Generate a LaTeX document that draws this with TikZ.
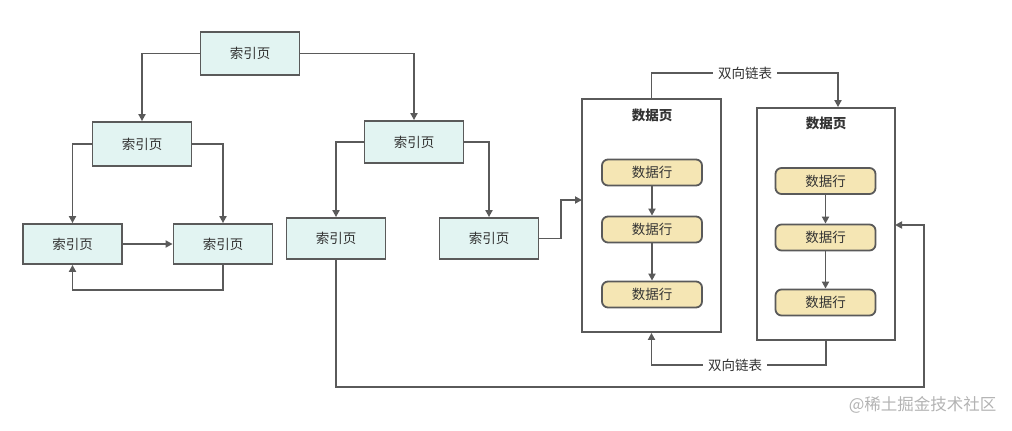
\documentclass[tikz,border=0pt]{standalone}
\usepackage{fontspec}
\setmainfont{Noto Sans CJK SC}
\usetikzlibrary{arrows.meta,calc}
\definecolor{lnc}{HTML}{5A5A5A}
\definecolor{idxfill}{HTML}{E2F4F2}
\definecolor{rowfill}{HTML}{F5E6B4}
\definecolor{txt}{HTML}{333333}
\definecolor{wm}{HTML}{B3B3B3}
\begin{document}
\begin{tikzpicture}[x=1pt,y=-1pt,
  idx/.style={draw=lnc,line width=1.8pt,fill=idxfill,minimum width=99pt,minimum height=41pt,inner sep=0pt,font=\fontsize{13.5}{14}\selectfont,text=txt},
  page/.style={draw=lnc,line width=1.8pt,fill=white,inner sep=0pt},
  row/.style={draw=lnc,line width=1.8pt,fill=rowfill,rounded corners=6pt,minimum width=100pt,minimum height=26pt,inner sep=0pt,font=\fontsize{13.5}{14}\selectfont,text=txt},
  ttl/.style={font=\bfseries\fontsize{13.5}{14}\selectfont,text=txt},
  lbl/.style={fill=white,inner xsep=5pt,inner ysep=1pt,font=\fontsize{13.5}{14}\selectfont,text=txt},
  conn/.style={draw=lnc,line width=1.8pt},
  arr/.style={conn,-{Triangle[length=7pt,width=7pt]}}]
\useasboundingbox (0,0) rectangle (1012,431);
% index pages
\node[idx,minimum height=43pt] (T) at (250,53.5) {索引页};
\node[idx,minimum height=44pt] (ML) at (142,144) {索引页};
\node[idx,minimum height=40pt] (LL) at (72.5,244) {索引页};
\node[idx,minimum height=40pt] (LR) at (223,244) {索引页};
\node[idx,minimum height=42pt] (MR) at (414,142) {索引页};
\node[idx] (RL) at (336,238.5) {索引页};
\node[idx] (RR) at (489,238.5) {索引页};
% data pages
\node[page,minimum width=139pt,minimum height=233pt] (P1) at (651.5,215.5) {};
\node[page,minimum width=138pt,minimum height=232pt] (P2) at (826,224) {};
\node[ttl] (P1t) at (652,115) {数据页};
\node[ttl] (P2t) at (826,123) {数据页};
\node[row] (D11) at (652,172.5) {数据行};
\node[row] (D12) at (652,229.5) {数据行};
\node[row] (D13) at (652,294.5) {数据行};
\node[row] (D21) at (825.5,181) {数据行};
\node[row] (D22) at (825.5,237.5) {数据行};
\node[row] (D23) at (825.5,302.5) {数据行};
% coordinates
\coordinate (lpb) at ($(LR.south)+(0,25)$);
\coordinate (p1in) at (582,200);
\coordinate (loopc) at (924,387);
\coordinate (p2in) at (895,225);
\coordinate (p2top) at ($(P2.north)+(12,0)$);
\coordinate (lk1) at (745,73);
\coordinate (lk2) at (735,365);
% connectors
\draw[arr] (T.west) -| (ML.north);
\draw[arr] (T.east) -| (MR.north);
\draw[arr] (ML.west) -| (LL.north);
\draw[arr] (ML.east) -| (LR.north);
\draw[arr] (LL.east) -- (LR.west);
\draw[arr] (LR.south) -- (lpb) -| (LL.south);
\draw[arr] (MR.west) -| (RL.north);
\draw[arr] (MR.east) -| (RR.north);
\draw[arr] (RR.east) -| ($(RR.east)!.5!(p1in)$) |- (p1in);
\draw[arr] (RL.south) |- (loopc) |- (p2in);
\draw[arr] (D11) -- (D12);
\draw[arr] (D12) -- (D13);
\draw[arr] (D21) -- (D22);
\draw[arr] (D22) -- (D23);
\draw[arr] (P1.north) |- (lk1) -| (p2top);
\draw[arr] (P2.south) |- (lk2) -| (P1.south);
\node[lbl] (L1) at (lk1) {双向链表};
\node[lbl] (L2) at (lk2) {双向链表};
% watermark
\node[text=wm,font=\fontsize{16.5}{17}\selectfont,anchor=east] (wmk) at (1000,405) {@稀土掘金技术社区};
\end{tikzpicture}
\end{document}
